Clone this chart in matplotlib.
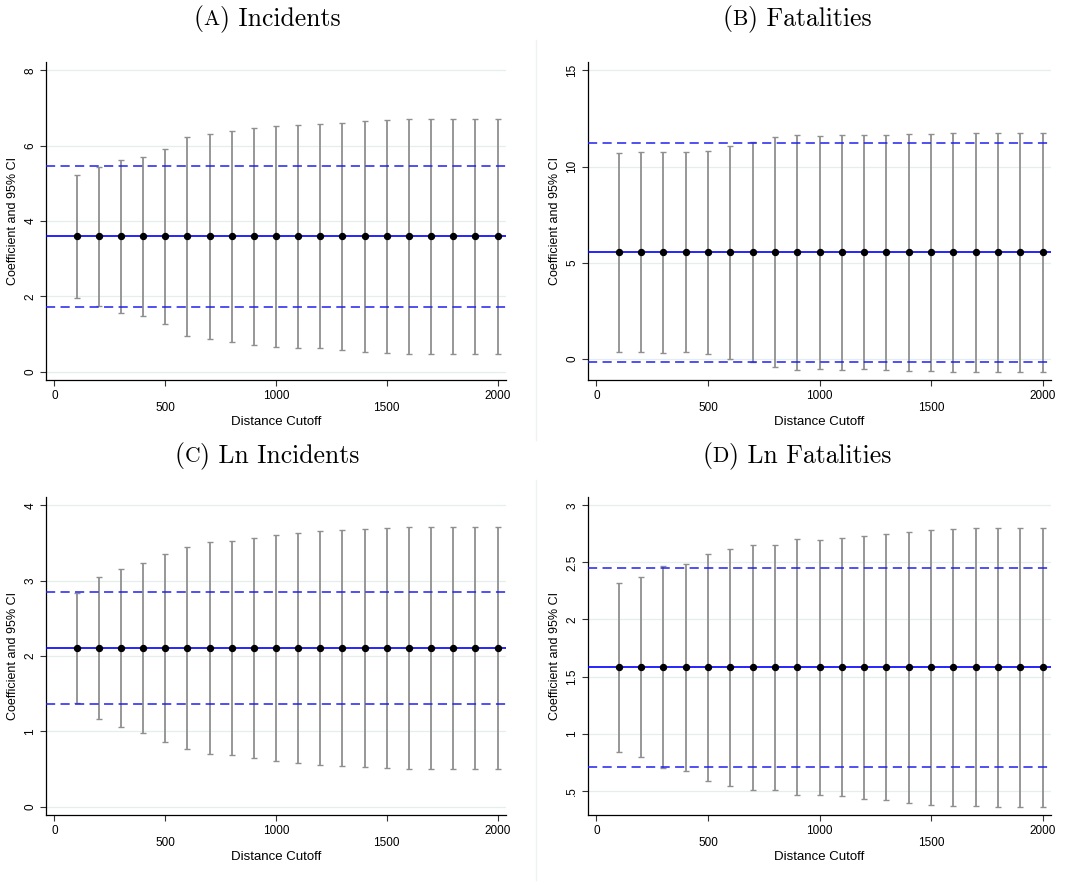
import numpy as np
import matplotlib
matplotlib.use("Agg")
import matplotlib.pyplot as plt

# ================================
# DATA
# ================================
cutoffs = [100, 200, 300, 400, 500, 600, 700, 800, 900, 1000,
           1100, 1200, 1300, 1400, 1500, 1600, 1700, 1800, 1900, 2000]

# (a) Incidents
inc_coef = 3.59
inc_base_ci = [1.71, 5.47]
inc_upper = [5.22, 5.44, 5.61, 5.70, 5.92, 6.23, 6.31, 6.40, 6.48, 6.53,
             6.55, 6.57, 6.60, 6.66, 6.69, 6.71, 6.72, 6.72, 6.72, 6.72]
inc_lower = [1.96, 1.75, 1.56, 1.48, 1.26, 0.95, 0.87, 0.78, 0.71, 0.66,
             0.64, 0.62, 0.58, 0.52, 0.49, 0.48, 0.47, 0.47, 0.47, 0.47]

# (b) Fatalities
fat_coef = 5.55
fat_base_ci = [-0.14, 11.21]
fat_upper = [10.71, 10.73, 10.78, 10.76, 10.83, 11.09, 11.28, 11.52, 11.66, 11.61,
             11.66, 11.63, 11.64, 11.70, 11.71, 11.75, 11.75, 11.75, 11.75, 11.75]
fat_lower = [0.38, 0.36, 0.31, 0.35, 0.26, 0.02, -0.17, -0.42, -0.57, -0.52,
             -0.57, -0.54, -0.55, -0.62, -0.64, -0.66, -0.66, -0.66, -0.66, -0.66]

# (c) Ln Incidents
lninc_coef = 2.106
lninc_base_ci = [1.358, 2.854]
lninc_upper = [2.836, 3.049, 3.155, 3.235, 3.350, 3.442, 3.509, 3.527, 3.571, 3.606,
               3.633, 3.655, 3.668, 3.686, 3.699, 3.708, 3.712, 3.712, 3.712, 3.712]
lninc_lower = [1.376, 1.164, 1.053, 0.978, 0.858, 0.770, 0.704, 0.681, 0.642, 0.606,
               0.580, 0.558, 0.544, 0.527, 0.513, 0.504, 0.500, 0.500, 0.500, 0.500]

# (d) Ln Fatalities
lnfat_coef = 1.581
lnfat_base_ci = [0.707, 2.454]
lnfat_upper = [2.320, 2.372, 2.468, 2.489, 2.574, 2.620, 2.652, 2.655, 2.702, 2.699,
               2.711, 2.728, 2.746, 2.766, 2.784, 2.793, 2.801, 2.801, 2.801, 2.801]
lnfat_lower = [0.839, 0.792, 0.696, 0.672, 0.588, 0.544, 0.509, 0.506, 0.462, 0.465,
               0.453, 0.430, 0.418, 0.395, 0.377, 0.369, 0.363, 0.360, 0.360, 0.360]

# title = (letter, rest) -> "(A) Incidents" with small-caps letter
title_letters = ["A", "B", "C", "D"]
title_names = ["Incidents", "Fatalities", "Ln Incidents", "Ln Fatalities"]

x_ticks = [0, 500, 1000, 1500, 2000]
x_ticklabels = ["0", "\n500", "1000", "\n1500", "2000"]

inc_yticks = [0, 2, 4, 6, 8]
fat_yticks = [0, 5, 10, 15]
lninc_yticks = [0, 1, 2, 3, 4]
lnfat_yticks = [0.5, 1, 1.5, 2, 2.5, 3]
lnfat_yticklabels = [".5", "1", "1.5", "2", "2.5", "3"]

# ================================
# FIGURE
# ================================
W, H = 1071, 884
fig = plt.figure(figsize=(W / 100, H / 100), dpi=100)
plt.rcParams['font.family'] = ['Liberation Sans', 'DejaVu Sans']


def px_axes(left, top, right, bottom):
    return fig.add_axes([left / W, 1 - bottom / H, (right - left) / W, (bottom - top) / H])


panels = [
    (px_axes(46, 62, 506, 380), inc_coef, inc_base_ci, inc_upper, inc_lower,
     inc_yticks, [str(t) for t in inc_yticks]),
    (px_axes(588, 62, 1051, 380), fat_coef, fat_base_ci, fat_upper, fat_lower,
     fat_yticks, [str(t) for t in fat_yticks]),
    (px_axes(46, 497, 506, 815), lninc_coef, lninc_base_ci, lninc_upper, lninc_lower,
     lninc_yticks, [str(t) for t in lninc_yticks]),
    (px_axes(588, 497, 1051, 815), lnfat_coef, lnfat_base_ci, lnfat_upper, lnfat_lower,
     lnfat_yticks, lnfat_yticklabels),
]

# title centre x and baseline y (pixels from top)
title_pos = [(267, 25), (797, 25), (267, 462), (797, 462)]

for ax, coef, base_ci, upper, lower, yticks, yticklabels in panels:
    x = np.array(cutoffs)
    up = np.array(upper)
    lo = np.array(lower)
    coefs = np.full(len(x), coef)

    # grid lines
    for t in yticks:
        ax.axhline(t, color="#e6eded", lw=0.9, zorder=0)

    # CI bars
    ax.errorbar(x, coefs, yerr=[coefs - lo, up - coefs], fmt="none",
                ecolor="#8f8f8f", elinewidth=1.3, capsize=2.5, capthick=1.0, zorder=2)

    # reference lines
    ax.axhline(coef, color="#0000ff", lw=1.2, zorder=3)
    ax.axhline(base_ci[0], color="#2020f0", lw=1.1, ls=(0, (6, 3.5)), zorder=3)
    ax.axhline(base_ci[1], color="#2020f0", lw=1.1, ls=(0, (6, 3.5)), zorder=3)

    ax.plot(x, coefs, "o", color="black", ms=4.3, zorder=4)

    # Stata-like range padding
    lo_r = min(min(lower), yticks[0])
    hi_r = max(max(upper), yticks[-1])
    pad = 0.0275 * (hi_r - lo_r)
    ax.set_ylim(lo_r - pad, hi_r + pad)
    ax.set_xlim(-38, 2038)

    ax.set_yticks(yticks)
    ax.set_yticklabels(yticklabels, rotation=90, va="center", fontsize=8.5)
    ax.set_xticks(x_ticks)
    ax.set_xticklabels(x_ticklabels, fontsize=8.5, linespacing=1.05)
    ax.tick_params(axis="both", length=4, width=0.8, color="#333333", pad=3)

    ax.spines["top"].set_visible(False)
    ax.spines["right"].set_visible(False)
    ax.spines["left"].set_linewidth(0.9)
    ax.spines["bottom"].set_linewidth(0.9)

    ax.set_ylabel("Coefficient and 95% CI", fontsize=9, labelpad=4)
    ax.set_xlabel("Distance Cutoff", fontsize=9.5, labelpad=1)

# ================================
# TITLES (small-caps panel letter)
# ================================
renderer = fig.canvas.get_renderer()
big, small = 18.5, 15.5
for (tx, ty), letter, name in zip(title_pos, title_letters, title_names):
    parts = [("(", big), (letter, small), (") " + name, big)]
    texts = []
    for s, fs in parts:
        t = fig.text(0, 1 - ty / H, s, family="cmr10", fontsize=fs,
                     ha="left", va="baseline")
        texts.append(t)
    widths = [t.get_window_extent(renderer).width for t in texts]
    start = tx - sum(widths) / 2
    for t, w in zip(texts, widths):
        t.set_x(start / W)
        start += w

# faint separators between the sub-images
fig.add_artist(plt.Line2D([536 / W, 536 / W], [1 - 440 / H, 1 - 40 / H], color="#eef2f2", lw=1))
fig.add_artist(plt.Line2D([536 / W, 536 / W], [1 - 880 / H, 1 - 480 / H], color="#eef2f2", lw=1))

fig.savefig("out.png", dpi=100, facecolor="white")
